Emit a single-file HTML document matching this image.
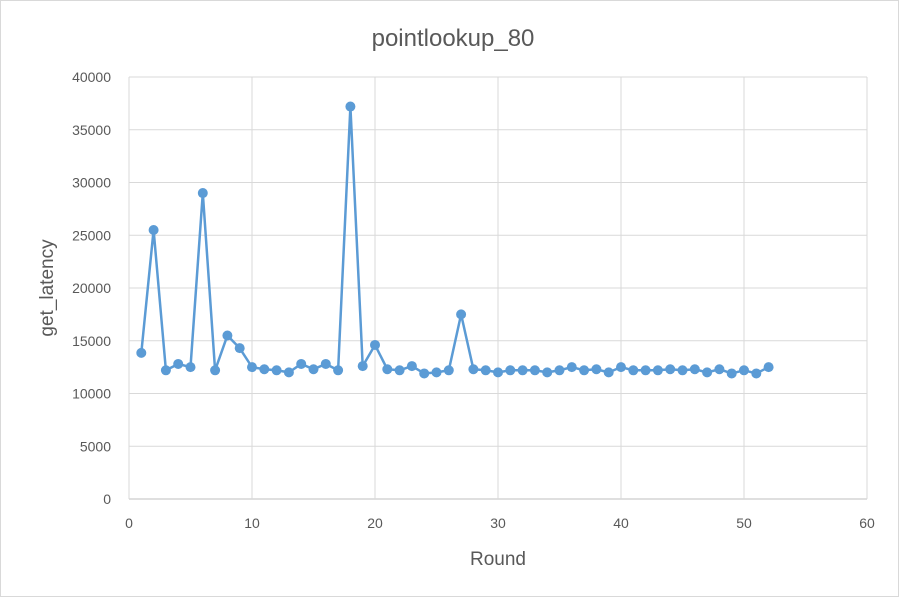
<!DOCTYPE html>
<html><head><meta charset="utf-8"><style>
body{margin:0;background:#fff;font-family:"Liberation Sans",sans-serif}
svg text{font-family:"Liberation Sans",sans-serif;fill:#595959}
</style></head><body>
<svg id="c" width="899" height="597">
<rect x="0.5" y="0.5" width="898" height="596" fill="#fff" stroke="#d9d9d9"/>
<text x="453" y="46" font-size="24" text-anchor="middle">pointlookup_80</text>
<text x="498" y="565" font-size="19" text-anchor="middle">Round</text>
<text transform="translate(53,288) rotate(-90)" font-size="19" text-anchor="middle">get_latency</text>
<g id="grid"></g><g id="ticks"></g><g id="series"></g>
</svg>
<script>
const xTicks=[0,10,20,30,40,50,60];
const yTicks=[0,5000,10000,15000,20000,25000,30000,35000,40000];
const rounds=[];for(let i=1;i<=52;i++)rounds.push(i);
const latency=[13850,25500,12200,12800,12500,29000,12200,15500,14300,12500,12300,12200,12000,12800,12300,12800,12200,37200,12600,14600,12300,12200,12600,11900,12000,12200,17500,12300,12200,12000,12200,12200,12200,12000,12200,12500,12200,12300,12000,12500,12200,12200,12200,12300,12200,12300,12000,12300,11900,12200,11900,12500];
const X0=129,X1=867,Y0=499,Y1=77;
const sx=v=>X0+(v-0)/60*(X1-X0), sy=v=>Y0-(v/40000)*(Y0-Y1);
const NS="http://www.w3.org/2000/svg";
const grid=document.getElementById('grid'),ticks=document.getElementById('ticks'),ser=document.getElementById('series');
function mk(t,a,p){const e=document.createElementNS(NS,t);for(const k in a)e.setAttribute(k,a[k]);p.appendChild(e);return e;}
yTicks.forEach(v=>{
 const l=mk('line',{x1:X0,x2:X1,y1:sy(v),y2:sy(v),stroke:v===0?'#bfbfbf':'#d9d9d9','stroke-width':1},grid);
 
 
 const t=mk('text',{x:X0-18,y:sy(v)+5,'font-size':14,'text-anchor':'end'},ticks);t.textContent=v;
 
 
});
xTicks.forEach(v=>{
 const l=mk('line',{x1:sx(v),x2:sx(v),y1:Y1,y2:Y0,stroke:'#d9d9d9','stroke-width':1},grid);
 
 
 const t=mk('text',{x:sx(v),y:Y0+29,'font-size':14,'text-anchor':'middle'},ticks);t.textContent=v;
 
 
});
const pl=mk('polyline',{points:rounds.map((r,i)=>sx(r)+','+sy(latency[i])).join(' '),fill:'none',stroke:'#5b9bd5','stroke-width':2.5,'stroke-linejoin':'round'},ser);


rounds.forEach((r,i)=>{
 const c=mk('circle',{cx:sx(r),cy:sy(latency[i]),r:5,fill:'#5b9bd5'},ser);
 
 
});
</script>
</body></html>
